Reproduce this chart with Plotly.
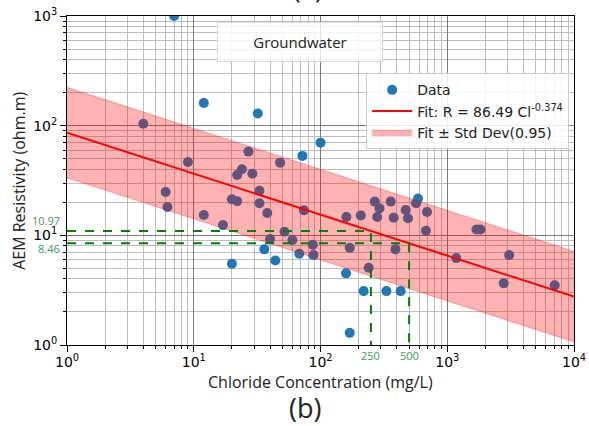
import numpy as np
import plotly.graph_objects as go

# Data
chloride = [4.0, 12.0, 32, 100, 72, 27, 9.0, 48, 24, 22, 29, 6.0, 33, 6.2, 20, 22, 33, 38, 74,
            12, 17, 52, 40, 60, 36, 44, 20, 68, 87, 88, 160, 208, 268, 292, 280, 358, 378, 470,
            490, 567, 588, 692, 679, 390, 170, 240, 159, 219, 331, 429, 170, 1178, 1700, 1830,
            3077, 2790, 7046, 7.0]
resistivity = [104, 161, 129, 70, 53, 58, 46.6, 46, 40, 35.5, 36.5, 24.8, 25.5, 18.1, 21.3, 20.5,
               19.6, 16.0, 16.9, 15.3, 12.4, 10.8, 9.25, 9.06, 7.45, 5.9, 5.5, 6.8, 8.2, 6.6, 14.7,
               15.2, 20.3, 17.6, 14.7, 20.3, 14.5, 17.0, 14.3, 19.6, 21.7, 16.3, 11.0, 7.45, 7.7,
               5.07, 4.5, 3.1, 3.1, 3.1, 1.29, 6.2, 11.3, 11.3, 6.6, 3.65, 3.5, 1000]

fit_a = 86.49
fit_b = -0.374
std_dev = 0.95
x_range = [1, 10000]
thresholds = [250, 500]
threshold_labels = ["10.97", "8.46"]

xf = np.array(x_range, dtype=float)
yf = fit_a * xf ** fit_b
y_up = yf * np.exp(std_dev)
y_lo = yf * np.exp(-std_dev)

blue = "#1f77b4"
green = "#008000"
label_green = "#3a9a5a"

fig = go.Figure()
fig.add_trace(go.Scatter(x=chloride, y=resistivity, mode="markers", name="Data",
                         marker=dict(color=blue, size=10), legendrank=1001))
fig.add_trace(go.Scatter(x=xf, y=y_lo, mode="lines", line=dict(color="rgba(255,0,0,0.3)", width=1),
                         showlegend=False, hoverinfo="skip"))
fig.add_trace(go.Scatter(x=xf, y=y_up, mode="lines", fill="tonexty",
                         fillcolor="rgba(255,0,0,0.3)", line=dict(color="rgba(255,0,0,0.3)", width=1),
                         name="Fit ± Std Dev(0.95)", legendrank=1003))
fig.add_trace(go.Scatter(x=xf, y=yf, mode="lines", line=dict(color="red", width=2),
                         name="Fit: R = 86.49 Cl<sup>-0.374</sup>", legendrank=1002))

# threshold dashed lines
for t in thresholds:
    yv = fit_a * t ** fit_b
    fig.add_trace(go.Scatter(x=[x_range[0], t, t], y=[yv, yv, 1], mode="lines",
                             line=dict(color=green, width=2, dash="dash"),
                             showlegend=False, hoverinfo="skip", cliponaxis=False))

font_main = "DejaVu Sans"
font_alt = "Open Sans"

tickvals_x = [1, 10, 100, 1000, 10000]
ticktext_x = ["10<sup>0</sup>", "10<sup>1</sup>", "10<sup>2</sup>", "10<sup>3</sup>", "10<sup>4</sup>"]
tickvals_y = [1, 10, 100, 1000]
ticktext_y = ["10<sup>0</sup>", "10<sup>1</sup>", "10<sup>2</sup>", "10<sup>3</sup>"]

axis_common = dict(type="log", showline=True, linecolor="black", linewidth=1, mirror=True,
                   ticks="outside", ticklen=6, tickcolor="black", showgrid=True,
                   gridcolor="#7a7a7a", gridwidth=1, zeroline=False, automargin=False,
                   tickfont=dict(family=font_main, size=14, color="black"),
                   minor=dict(dtick="D1", showgrid=True, gridcolor="#bdbdbd", gridwidth=1,
                              ticks="outside", ticklen=3, tickcolor="black"))

fig.update_xaxes(range=[0, 4], tickvals=tickvals_x, ticktext=ticktext_x, ticklabelstandoff=-2,
                 **axis_common)
fig.update_yaxes(range=[0, 3], tickvals=tickvals_y, ticktext=ticktext_y, **axis_common)

annotations = [
    dict(text="Groundwater", x=0.459, y=0.921, xref="paper", yref="paper", showarrow=False,
         xanchor="center", yanchor="middle",
         font=dict(family=font_alt, size=15, color="#222"), bgcolor="rgba(255,255,255,0.8)",
         bordercolor="#d8d8d8", borderwidth=1, width=162, height=36),
    dict(text="Chloride Concentration (mg/L)", x=0.5, y=-0.112, xref="paper", yref="paper",
         xanchor="center", yanchor="middle",
         showarrow=False, font=dict(family=font_alt, size=16, color="#222")),
    dict(text="AEM Resistivity (ohm.m)", x=-0.096, y=0.5, xref="paper", yref="paper",
         xanchor="center", yanchor="middle",
         showarrow=False, textangle=-90, font=dict(family=font_alt, size=16, color="#222")),
    dict(text="(b)", x=0.469, y=-0.191, xref="paper", yref="paper", showarrow=False,
         xanchor="center", yanchor="middle",
         font=dict(family=font_alt, size=27, color="#222")),
    dict(text="(a)", x=0.475, y=1.0, xref="paper", yref="paper", showarrow=False,
         xanchor="center", yanchor="bottom", yshift=8, font=dict(family=font_alt, size=26, color="#222")),
    dict(text=threshold_labels[0], x=-0.01, y=np.log10(10.97), xref="paper", yref="y",
         xanchor="right", yanchor="middle", showarrow=False, yshift=10,
         font=dict(family=font_alt, size=11, color=label_green)),
    dict(text=threshold_labels[1], x=-0.01, y=np.log10(8.46), xref="paper", yref="y",
         xanchor="right", yanchor="middle", showarrow=False, yshift=-5,
         font=dict(family=font_alt, size=11, color=label_green)),
]
for t in thresholds:
    annotations.append(dict(text=str(t), x=np.log10(t), y=0, xref="x", yref="paper",
                            xanchor="center", yanchor="top", showarrow=False, yshift=-1,
                            font=dict(family=font_alt, size=11, color=label_green)))

fig.update_layout(
    width=589, height=426,
    margin=dict(l=67, r=15, t=16, b=81, autoexpand=False),
    plot_bgcolor="white", paper_bgcolor="white",
    annotations=annotations,
    legend=dict(x=0.59, y=0.826, xanchor="left", yanchor="top", traceorder="normal",
                bgcolor="rgba(255,255,255,0.85)", bordercolor="#cccccc", borderwidth=1,
                itemwidth=40,
                font=dict(family=font_main, size=14, color="#222"), tracegroupgap=0),
    showlegend=True,
)

fig.write_html("out.html", config={"displayModeBar": False},
               post_script="document.body.style.margin='0';document.body.style.overflow='hidden';")
